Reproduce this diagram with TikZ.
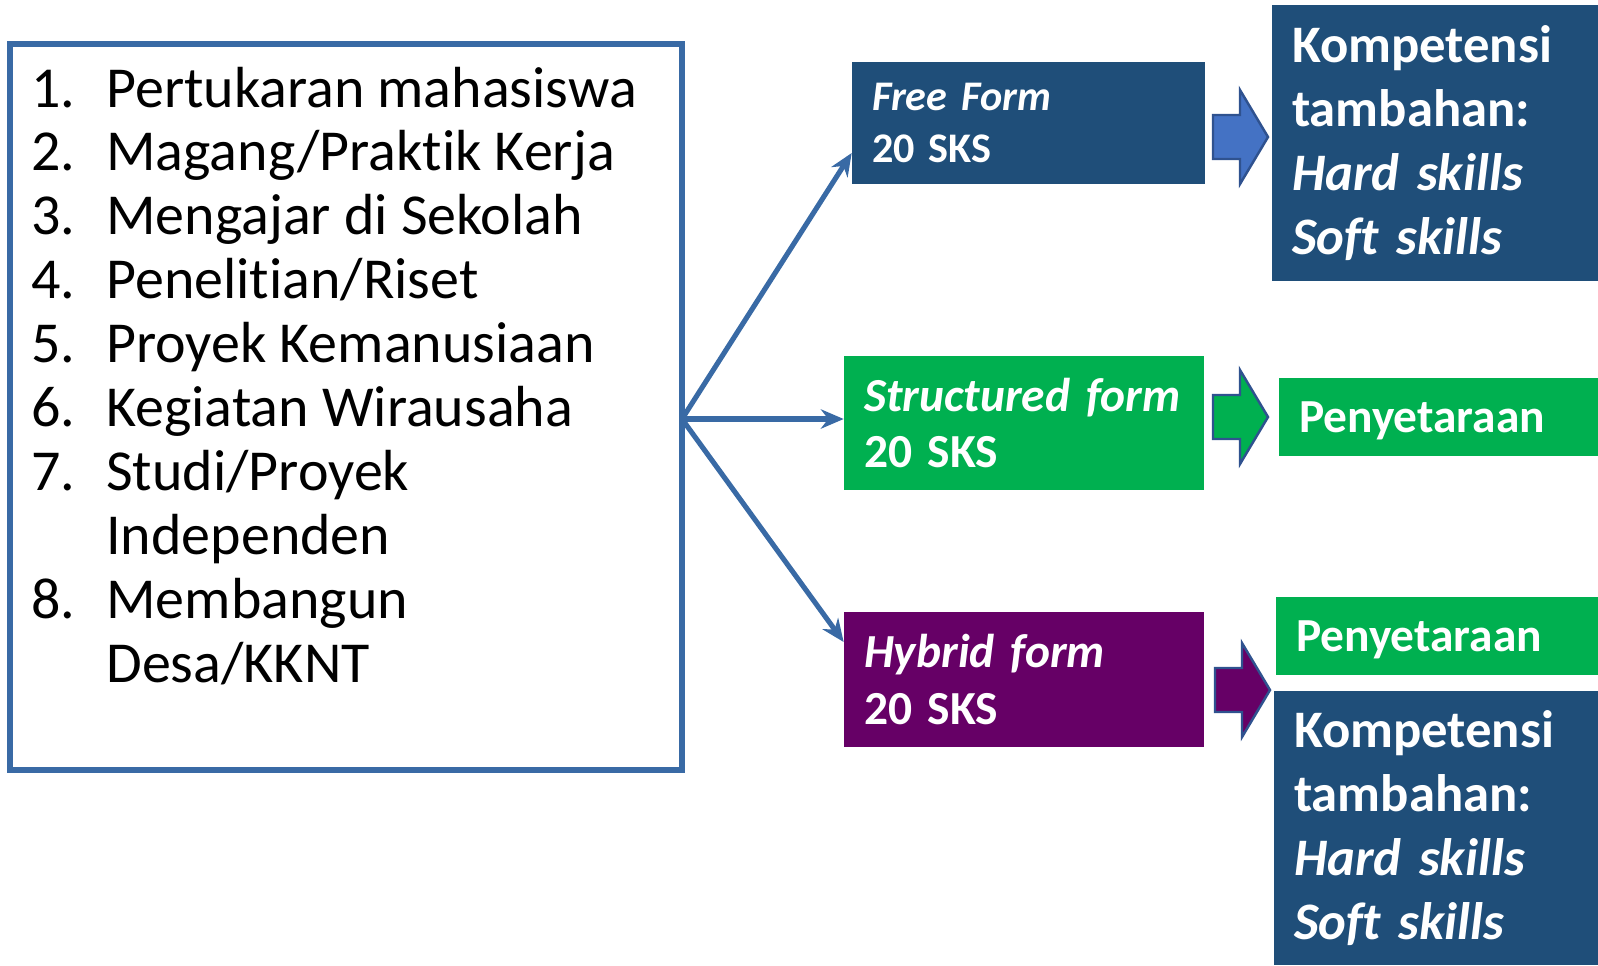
\documentclass[tikz,border=0pt]{standalone}
\usepackage{fontspec}
\setmainfont{Carlito}[Ligatures=NoCommon]
\usepackage{tikz}
\usetikzlibrary{arrows.meta,positioning}

\definecolor{linkblue}{RGB}{57,106,165}
\definecolor{navy}{RGB}{31,78,121}
\definecolor{grn}{RGB}{0,176,80}
\definecolor{plum}{RGB}{102,0,102}
\definecolor{arrfill}{RGB}{68,114,196}
\definecolor{arredge}{RGB}{47,82,143}

\begin{document}
\begin{tikzpicture}[x=0.02cm,y=-0.02cm,>={Stealth[length=13pt,width=11pt]}]
	\tikzstyle{box}=[rectangle,inner xsep=0.4cm,inner ysep=0pt,
	text=white,align=left
	]
	\tikzstyle{form}=[box,minimum width=7.2cm,text width=6.4cm,
	font=\fontsize{27}{32.4}\selectfont\bfseries];
	\tikzstyle{result}=[box,font=\fontsize{30}{36.5}\selectfont\bfseries];
	\tikzstyle{link}=[draw=linkblue,line width=2.9pt];
	\tikzstyle{blk}=[draw=arredge,line width=1.4pt];
\useasboundingbox (0,0) rectangle (1598,965);

% daftar kegiatan
\node[draw=linkblue,line width=3pt,minimum width=13.44cm,minimum height=14.52cm](acts) at (346,407){};
\node[anchor=base west,inner sep=0pt,font=\fontsize{33}{36.4}\selectfont](list) at (31,107){%
\begin{tabular}[t]{@{}p{42.7pt}@{}l@{}}
1. & Pertukaran mahasiswa\\
2. & Magang/Prakt\kern0pt ik Kerja\\
3. & Mengajar di Sekolah\\
4. & Penelit\kern0pt ian/Riset\\
5. & Proyek Kemanusiaan\\
6. & Kegiatan Wirausaha\\
7. & Studi/Proyek\\
   & Independen\\
8. & Membangun\\
   & Desa/KKNT
\end{tabular}};

% bentuk
\node[form,fill=navy,minimum width=7.06cm,text width=6.26cm,minimum height=2.44cm,
	font=\fontsize{24}{29.6}\selectfont\bfseries](free) at (1028.5,123){\textit{Free Form}\\20 SKS};
\node[form,fill=grn,minimum height=2.68cm](struct) at (1024,423){\textit{Structured form}\\20 SKS};
\node[form,fill=plum,minimum height=2.7cm](hybrid) at (1024,679.5){\textit{Hybrid form}\\20 SKS};

\coordinate (br) at (682,419);
\draw[link,->] (br) -- ([yshift=-0.6cm]free.west);
\draw[link,->] (br) -- (br -| struct.west);
\draw[link,->] (br) -- ([yshift=0.75cm]hybrid.west);

% hasil
\node[result,fill=navy,minimum width=6.52cm,text width=5.72cm,minimum height=5.52cm](komp1) at (1435,143){Kompetensi\\tambahan:\\\textit{Hard skills}\\\textit{Soft skills}};
\node[result,fill=grn,minimum width=6.38cm,text width=5.58cm,minimum height=1.56cm,text depth=0pt,
	font=\fontsize{27}{32}\selectfont\bfseries](peny1) at (1438.5,417){Penyetaraan};
\node[result,fill=grn,minimum width=6.44cm,text width=5.64cm,minimum height=1.56cm,text depth=0pt,
	font=\fontsize{27}{32}\selectfont\bfseries](peny2) at (1437,636){Penyetaraan};
\node[result,fill=navy,minimum width=6.48cm,text width=5.68cm,minimum height=5.48cm](komp2) at (1436,828){Kompetensi\\tambahan:\\\textit{Hard skills}\\\textit{Soft skills}};

% panah blok
\draw[blk,fill=arrfill] (1213,115) -- ++(27,0) -- ++(0,-25) -- ++(28,47) -- ++(-28,47) -- ++(0,-25) -- ++(-27,0) -- cycle;
\draw[blk,fill=grn] (1213,395) -- ++(27,0) -- ++(0,-25) -- ++(28,47) -- ++(-28,47) -- ++(0,-25) -- ++(-27,0) -- cycle;
\draw[blk,fill=plum] (1215,668) -- ++(27,0) -- ++(0,-25) -- ++(28,47) -- ++(-28,47) -- ++(0,-25) -- ++(-27,0) -- cycle;

\end{tikzpicture}
\end{document}
